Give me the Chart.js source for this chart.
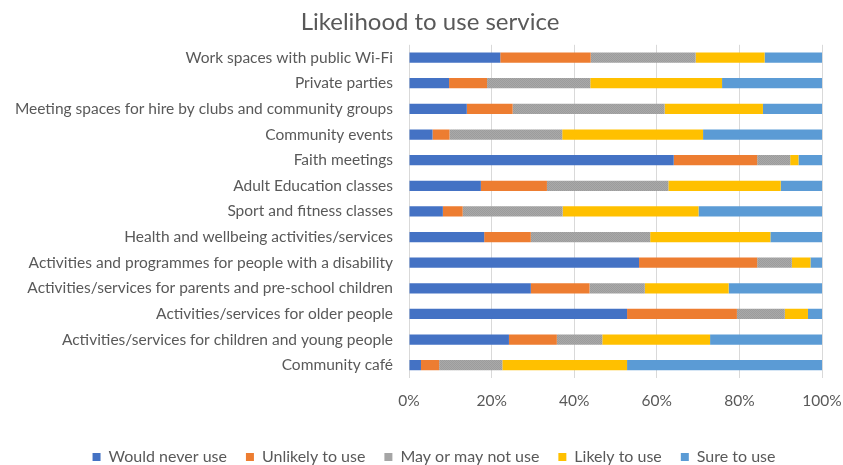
<!DOCTYPE html>
<html>
<head>
<meta charset="utf-8">
<script src="https://cdn.jsdelivr.net/npm/chart.js@4/dist/chart.umd.min.js"></script>
<style>
  html, body { margin: 0; padding: 0; background: #ffffff; }
  #wrap { width: 843px; height: 465px; }
</style>
</head>
<body>
<div id="wrap"><canvas id="c" width="843" height="465"></canvas></div>
<script>
// Services, listed top to bottom
const categories = [
  "Work spaces with public Wi-Fi",
  "Private parties",
  "Meeting spaces for hire by clubs and community groups",
  "Community events",
  "Faith meetings",
  "Adult Education classes",
  "Sport and fitness classes",
  "Health and wellbeing activities/services",
  "Activities and programmes for people with a disability",
  "Activities/services for parents and pre-school children",
  "Activities/services for older people",
  "Activities/services for children and young people",
  "Community café"
];

// Share of respondents (%) per answer
const wouldNeverUse   = [22.1,  9.7, 14.0,  5.7, 64.1, 17.4,  8.2, 18.2, 55.7, 29.5, 52.8, 24.2,  2.9];
const unlikelyToUse   = [21.9,  9.2, 11.1,  4.1, 20.2, 16.0,  4.8, 11.3, 28.6, 14.2, 26.6, 11.6,  4.4];
const mayOrMayNotUse  = [25.4, 25.0, 36.8, 27.3,  8.0, 29.4, 24.2, 28.9,  8.4, 13.4, 11.6, 11.0, 15.3];
const likelyToUse     = [16.7, 31.9, 23.8, 34.1,  2.0, 27.2, 32.9, 29.1,  4.5, 20.3,  5.6, 26.1, 30.2];
const sureToUse       = [13.9, 24.2, 14.3, 28.8,  5.7, 10.0, 29.9, 12.5,  2.8, 22.6,  3.4, 27.1, 47.2];

const seriesNames = ["Would never use", "Unlikely to use", "May or may not use", "Likely to use", "Sure to use"];
const tickValues = [0, 20, 40, 60, 80, 100];

// Fine stipple texture for the middle answer
function stipple() {
  const p = document.createElement("canvas");
  p.width = 2; p.height = 2;
  const g = p.getContext("2d");
  g.fillStyle = "#a9a9a9"; g.fillRect(0, 0, 2, 2);
  g.fillStyle = "#9c9c9c"; g.fillRect(0, 0, 1, 1); g.fillRect(1, 1, 1, 1);
  return g.createPattern(p, "repeat");
}
const ctx = document.getElementById("c").getContext("2d");
const greyFill = stipple();

const textColor = "#595959";
const fontFamily = "Lato, 'Open Sans', 'Liberation Sans', sans-serif";

const fills = ["#4472c4", "#ed7d31", greyFill, "#ffc000", "#5b9bd5"];
const legendFills = ["#4472c4", "#ed7d31", "#a5a5a5", "#ffc000", "#5b9bd5"];
const values = [wouldNeverUse, unlikelyToUse, mayOrMayNotUse, likelyToUse, sureToUse];

// Centre the title and legend a little right of the canvas middle
const recentre = {
  id: "recentre",
  afterLayout(chart) {
    if (chart.titleBlock) { chart.titleBlock.left = 38; }
    if (chart.legend) { chart.legend.left = 46; }
  }
};

new Chart(ctx, {
  type: "bar",
  data: {
    labels: categories,
    datasets: seriesNames.map((name, i) => ({
      label: name,
      data: values[i],
      backgroundColor: fills[i],
      borderWidth: 0,
      categoryPercentage: 1.0,
      barPercentage: 0.4
    }))
  },
  plugins: [recentre],
  options: {
    indexAxis: "y",
    responsive: false,
    animation: false,
    devicePixelRatio: 1,
    layout: { padding: { left: 0, right: 21, top: 0, bottom: -10 } },
    plugins: {
      title: {
        display: true,
        text: "Likelihood to use service",
        color: textColor,
        font: { family: fontFamily, size: 24, weight: "normal" },
        padding: { top: 8, bottom: 8 }
      },
      legend: {
        position: "bottom",
        labels: {
          color: textColor,
          font: { family: fontFamily, size: 16 },
          boxWidth: 8,
          boxHeight: 8,
          padding: 19,
          generateLabels: (chart) => seriesNames.map((name, i) => ({
            text: name,
            fillStyle: legendFills[i],
            strokeStyle: legendFills[i],
            lineWidth: 0,
            fontColor: textColor,
            datasetIndex: i,
            hidden: false
          }))
        }
      },
      tooltip: { enabled: false }
    },
    scales: {
      x: {
        stacked: true,
        min: 0,
        max: 100,
        afterBuildTicks: (scale) => { scale.ticks = tickValues.map(v => ({ value: v })); },
        afterFit: (scale) => { scale.height = 52; scale.paddingLeft = 0; scale.paddingRight = 0; },
        ticks: {
          color: textColor,
          font: { family: fontFamily, size: 15.5 },
          padding: 14,
          callback: (v) => v + "%"
        },
        grid: { color: "#d9d9d9", lineWidth: 1, drawTicks: false },
        border: { display: false }
      },
      y: {
        stacked: true,
        afterFit: (scale) => { scale.width = 409; scale.paddingTop = 0; scale.paddingBottom = 0; },
        ticks: {
          color: textColor,
          font: { family: fontFamily, size: 15.5 },
          padding: 16,
          autoSkip: false
        },
        grid: { display: false, drawTicks: false },
        border: { display: false }
      }
    }
  }
});
</script>
</body>
</html>
